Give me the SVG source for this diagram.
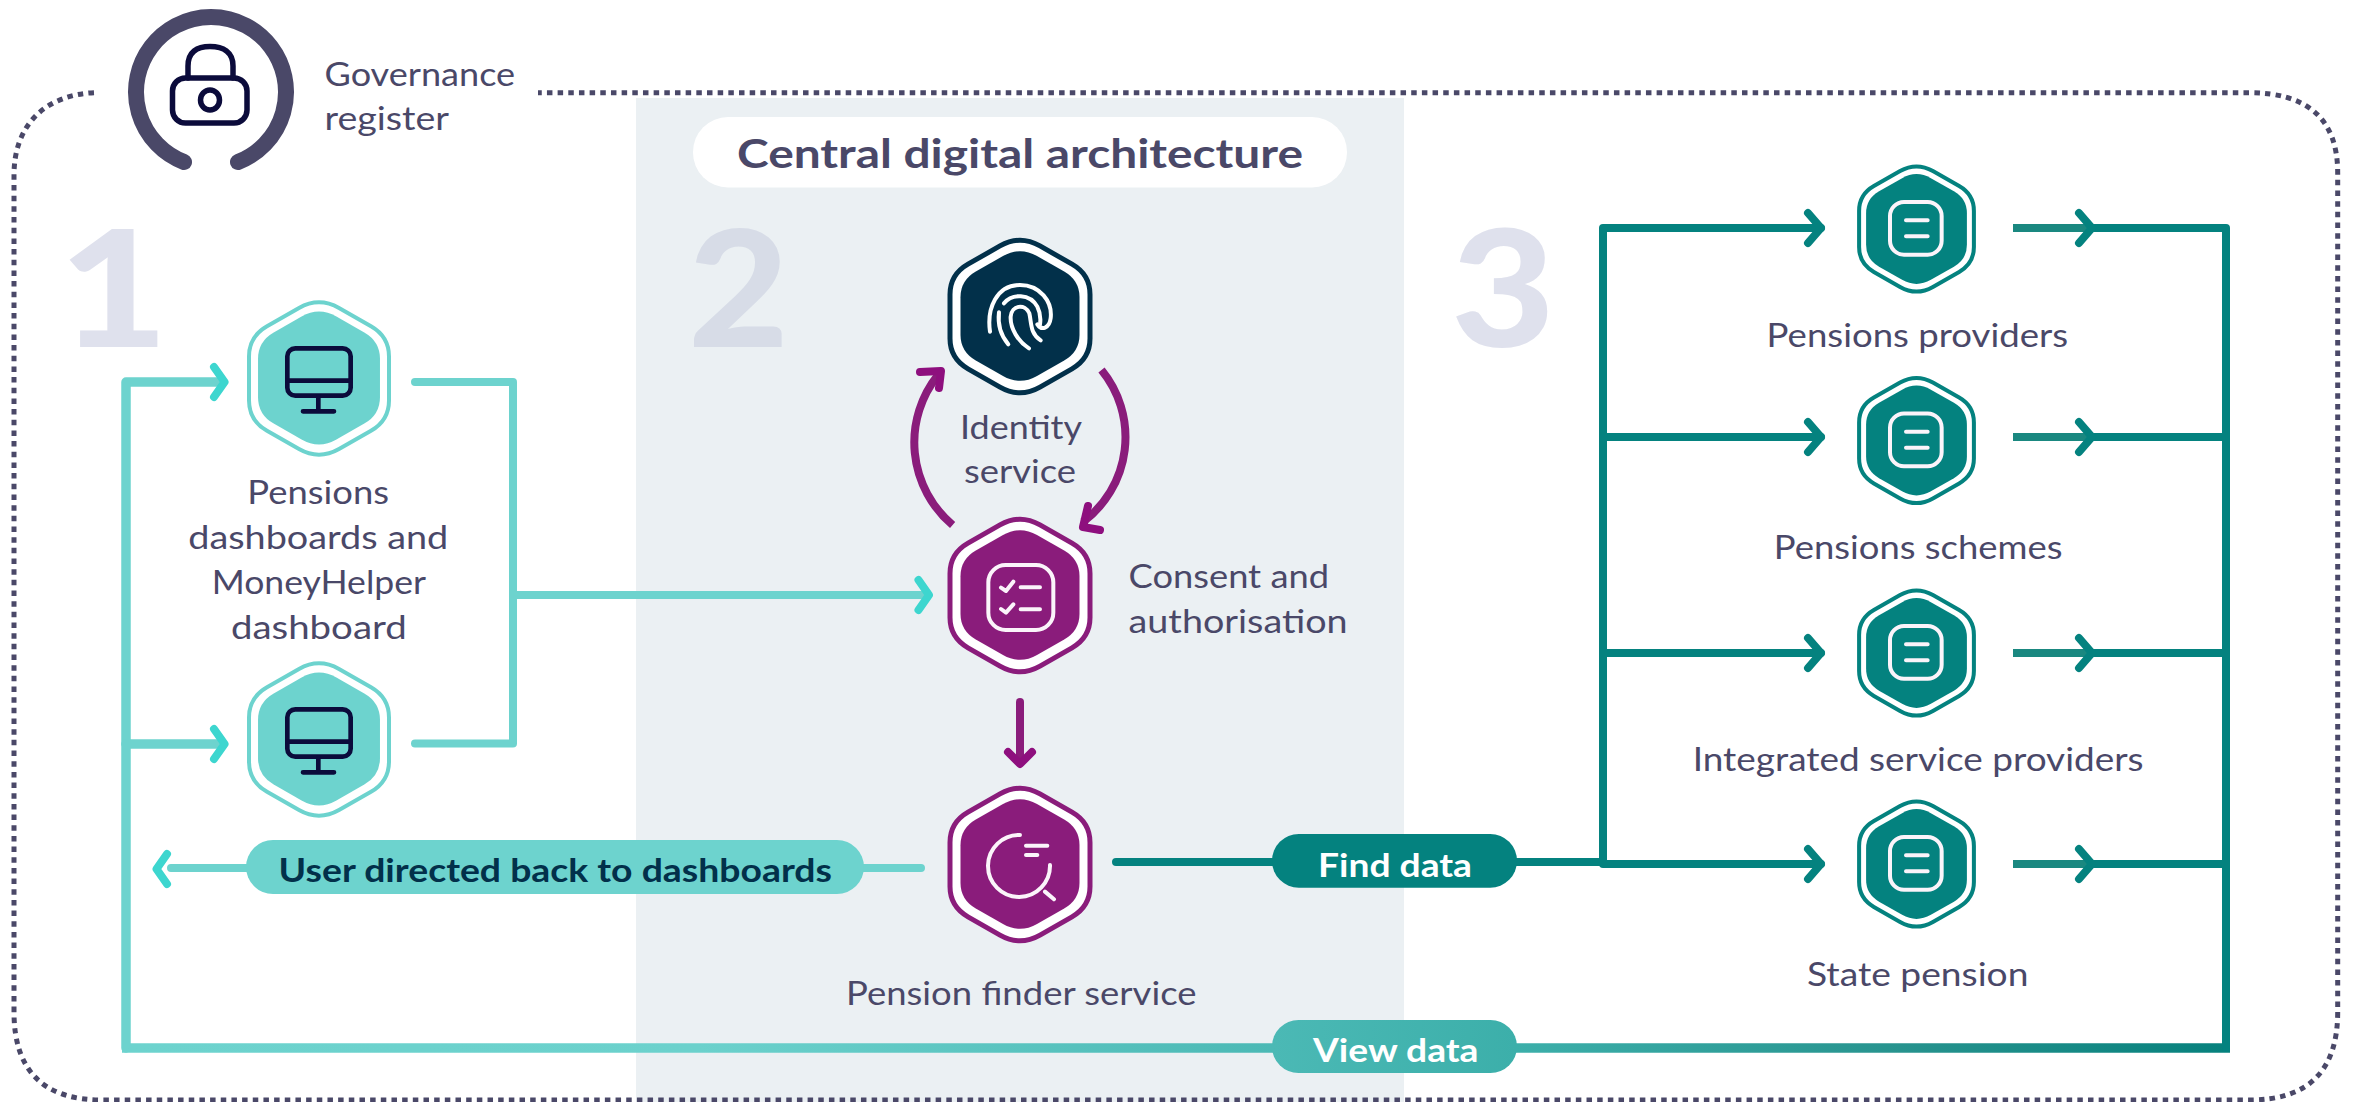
<svg xmlns="http://www.w3.org/2000/svg" width="2354" height="1102" viewBox="0 0 2354 1102">
<style>
text{font-family:"Lato","Noto Sans","Liberation Sans",sans-serif}
.l{font-size:32.5px;fill:#4a4868}
.b{font-size:33px;font-weight:700}
.n{font-size:163px;font-weight:900;fill:#dfe1ed}
.ln{fill:none;stroke-linecap:round;stroke-linejoin:round}
.lt{stroke:#6dd3ce;stroke-width:8}
.te{stroke:#04827f;stroke-width:8}
.pu{stroke:#8a1c7b;stroke-width:8}
.ahl{stroke:#3dd6cf;stroke-width:8}
.ahp{stroke:#8e0f7e;stroke-width:8}
.ic{fill:none;stroke-linecap:round;stroke-linejoin:round;stroke-width:12}
.w{stroke:#fbf4fa}
.k{stroke:#0b0b3b;stroke-width:14}
.o{fill:#fff;stroke-width:5}
.o2{fill:#fff;stroke-width:4.9}
.o3{fill:#fff;stroke-width:4}
</style>
<defs>
<path id="hex" d="M-20,-70.6 Q0,-82 20,-70.6 L52,-52.3 Q70,-42 70,-22 V22 Q70,42 52,52.3 L20,70.6 Q0,82 -20,70.6 L-52,52.3 Q-70,42 -70,22 V-22 Q-70,-42 -52,-52.3 Z"/>
<linearGradient id="vg" gradientUnits="userSpaceOnUse" x1="126" y1="0" x2="2226" y2="0">
<stop offset="0" stop-color="#6dd3ce"/><stop offset=".273" stop-color="#6bd1cc"/><stop offset=".546" stop-color="#4bb9b5"/><stop offset=".662" stop-color="#3cafaa"/><stop offset=".845" stop-color="#27938e"/><stop offset="1" stop-color="#07817d"/>
</linearGradient>
<g id="mon" class="ic k"><rect x="172" y="175" width="190" height="142" rx="24"/><path d="M172,272H362M265,320V364M219,364H312"/></g>
<g id="doc" class="ic w"><rect x="180" y="156" width="155" height="158" rx="42"/><path d="M228,211H293M228,259H293"/></g>
</defs>

<g id="band"><rect x="636" y="98" width="768" height="1004" fill="#ebf0f3"/></g>
<g id="border"><path d="M94,92.7 C45,95 14,125 14,175 V1012 Q14,1100 102,1100 H2250 Q2337.7,1100 2337.7,1012 V173 Q2337.7,92.7 2249,92.7 H538" fill="none" stroke="#4a4868" stroke-width="5" stroke-dasharray="5.5 5.17"/></g>
<g id="numbers">
<text class="n" x="58.500" y="347" textLength="110" lengthAdjust="spacingAndGlyphs">1</text>
<text class="n" x="688" y="347" textLength="101" lengthAdjust="spacingAndGlyphs" style="fill:#d7dce7">2</text>
<text class="n" x="1451" y="347" textLength="104" lengthAdjust="spacingAndGlyphs">3</text>
</g>

<g id="connectors">
<path class="ln lt" style="stroke-width:9.5" d="M126,1048V382H222"/>
<path class="ln lt" style="stroke-width:9.5" d="M126,744H222" />
<path class="ln lt" d="M415,382H513V743.500H415M513,595H925M921,868H171"/>
<path class="ln ahl" d="M214,367L224.600,382L214,397M214,729L224.600,744L214,759M918.500,580L929,595L918.500,610M167,854L156.500,869L167,884"/>
<path d="M122,1048H2230" fill="none" stroke="url(#vg)" stroke-width="9.500"/>
<path class="ln pu" style="stroke-linecap:butt" d="M952.600,525A108,108 0 0 1 938,375"/>
<path class="ln pu" style="stroke-linecap:butt" d="M1101.500,370A106,106 0 0 1 1083,522"/>
<path class="ln ahp" d="M920,372L941,371L939,388M1088,506L1083,527L1100,530"/>
<path class="ln pu" d="M1020,702V760"/>
<path class="ln ahp" d="M1008,752L1020,764L1032,752"/>
<path class="ln te" d="M1116,862H1602M1603,864V228H1821M1603,437H1821M1603,653H1821M1603,864H1821"/>
<path class="ln te" d="M1808,213L1821,228L1808,243M1808,422L1821,437L1808,452M1808,638L1821,653L1808,668M1808,849L1821,864L1808,879"/>
<path class="ln te" style="stroke:#1a8880;stroke-linecap:butt" d="M2013,228H2092M2013,437H2092M2013,653H2092M2013,864H2092"/>
<path class="ln te" d="M2092,228H2226V1048M2092,437H2226M2092,653H2226M2092,864H2226"/>
<path class="ln te" d="M2079,213L2092,228L2079,243M2079,422L2092,437L2079,452M2079,638L2092,653L2079,668M2079,849L2092,864L2079,879"/>
</g>

<g id="governance">
<path d="M184,162A75,75 0 1 1 238,162" fill="none" stroke="#4a4868" stroke-width="16" stroke-linecap="round"/>
<g fill="none" stroke="#0b0b3b" stroke-width="5.500" stroke-linecap="round">
<rect x="172.500" y="78" width="74.500" height="45" rx="13"/>
<path d="M188,78V66C188,52 197,46.500 210,46.500S233,52 233,66V78"/>
<ellipse cx="210" cy="100" rx="9.500" ry="10"/>
</g>
<text class="l" x="324.500" y="86" textLength="190.600" lengthAdjust="spacingAndGlyphs">Governance</text>
<text class="l" x="324.500" y="130" textLength="124.500" lengthAdjust="spacingAndGlyphs">register</text>
</g>

<g id="title">
<rect x="693" y="117" width="654" height="70.500" rx="35" fill="#fff"/>
<text class="b" x="737" y="168" textLength="566" lengthAdjust="spacingAndGlyphs" style="font-size:41px;fill:#4a4868">Central digital architecture</text>
</g>

<g id="dash1">
<use href="#hex" x="319" y="378.500" class="o3" stroke="#6dd3ce"/>
<use href="#hex" transform="translate(319 378) scale(.871)" fill="#6dd3ce"/>
<use href="#mon" transform="translate(230 290) scale(.3333)"/>
<text class="l" x="247.300" y="504" textLength="141.700" lengthAdjust="spacingAndGlyphs">Pensions</text>
<text class="l" x="188.300" y="549.300" textLength="260" lengthAdjust="spacingAndGlyphs">dashboards and</text>
<text class="l" x="211.700" y="594" textLength="214.300" lengthAdjust="spacingAndGlyphs">MoneyHelper</text>
<text class="l" x="231" y="639.300" textLength="175.700" lengthAdjust="spacingAndGlyphs">dashboard</text>
</g>
<g id="dash2">
<use href="#hex" x="319" y="739.500" class="o3" stroke="#6dd3ce"/>
<use href="#hex" transform="translate(319 739) scale(.871)" fill="#6dd3ce"/>
<use href="#mon" transform="translate(230 651) scale(.3333)"/>
</g>

<g id="identity">
<use href="#hex" x="1020" y="316.500" class="o" stroke="#02304a"/>
<use href="#hex" transform="translate(1020 316) scale(.85)" fill="#02304a"/>
<g transform="translate(930 225) scale(.3333)" class="ic" stroke="#fff">
<path d="M180,320C170,250 200,180 270,180C330,180 368,230 362,280C358,310 335,318 322,298"/>
<path d="M207,262C202,305 215,335 235,358"/>
<path d="M222,235C245,205 300,205 322,245C332,265 332,285 330,298"/>
<path d="M297,370C265,350 240,310 242,275C245,240 285,235 298,265C305,295 300,325 332,346"/>
</g>
<text class="l" x="960" y="438.600" textLength="122" lengthAdjust="spacingAndGlyphs">Identity</text>
<text class="l" x="964" y="483" textLength="112" lengthAdjust="spacingAndGlyphs">service</text>
</g>

<g id="consent">
<use href="#hex" x="1020" y="595.500" class="o" stroke="#8a1c7b"/>
<use href="#hex" transform="translate(1020 595) scale(.85)" fill="#8a1c7b"/>
<g transform="translate(930 510) scale(.3333)" class="ic w">
<rect x="175" y="165" width="195" height="195" rx="52"/>
<path d="M213,233L228,243L250,215M272,232H330M213,297L228,308L250,283M272,298H330"/>
</g>
<text class="l" x="1128.600" y="588" textLength="200.400" lengthAdjust="spacingAndGlyphs">Consent and</text>
<text class="l" x="1128.600" y="633" textLength="219" lengthAdjust="spacingAndGlyphs">authorisation</text>
</g>

<g id="finder">
<use href="#hex" x="1020" y="864.500" class="o" stroke="#8a1c7b"/>
<use href="#hex" transform="translate(1020 864) scale(.85)" fill="#8a1c7b"/>
<g transform="translate(930 510) scale(.3333)" class="ic w">
<path d="M270,975A93,93 0 1 0 360,1065M288,1007H352M288,1035H322M345,1145L372,1168"/>
</g>
<text class="l" x="846" y="1005" textLength="350.500" lengthAdjust="spacingAndGlyphs">Pension finder service</text>
</g>

<g id="providers">
<use href="#hex" transform="translate(1916.500 229) scale(.82)" class="o2" stroke="#04827f"/>
<use href="#hex" transform="translate(1916.500 229) scale(.72)" fill="#04827f"/>
<use href="#doc" transform="translate(1830 150) scale(.3333)"/>
<text class="l" x="1766.600" y="347.300" textLength="301.400" lengthAdjust="spacingAndGlyphs">Pensions providers</text>
</g>
<g id="schemes">
<use href="#hex" transform="translate(1916.500 440.500) scale(.82)" class="o2" stroke="#04827f"/>
<use href="#hex" transform="translate(1916.500 440.500) scale(.72)" fill="#04827f"/>
<use href="#doc" transform="translate(1830 361.500) scale(.3333)"/>
<text class="l" x="1773.800" y="558.600" textLength="288.700" lengthAdjust="spacingAndGlyphs">Pensions schemes</text>
</g>
<g id="integrated">
<use href="#hex" transform="translate(1916.500 653) scale(.82)" class="o2" stroke="#04827f"/>
<use href="#hex" transform="translate(1916.500 653) scale(.72)" fill="#04827f"/>
<use href="#doc" transform="translate(1830 574) scale(.3333)"/>
<text class="l" x="1692.700" y="771" textLength="450.900" lengthAdjust="spacingAndGlyphs">Integrated service providers</text>
</g>
<g id="state">
<use href="#hex" transform="translate(1916.500 864) scale(.82)" class="o2" stroke="#04827f"/>
<use href="#hex" transform="translate(1916.500 864) scale(.72)" fill="#04827f"/>
<use href="#doc" transform="translate(1830 785) scale(.3333)"/>
<text class="l" x="1807" y="985.600" textLength="221.400" lengthAdjust="spacingAndGlyphs">State pension</text>
</g>

<g id="pills">
<rect x="246" y="840" width="618" height="54" rx="27" fill="#6dd3ce"/>
<text class="b" x="278.600" y="882" textLength="553.400" lengthAdjust="spacingAndGlyphs" style="fill:#02304a">User directed back to dashboards</text>
<rect x="1272" y="834" width="245" height="53.700" rx="26.800" fill="#04827f"/>
<text class="b" x="1318" y="877" textLength="154" lengthAdjust="spacingAndGlyphs" style="fill:#fff">Find data</text>
<rect x="1272" y="1020" width="245" height="53" rx="26.500" fill="url(#vg)"/>
<text class="b" x="1313" y="1062" textLength="165.500" lengthAdjust="spacingAndGlyphs" style="fill:#fff">View data</text>
</g>
</svg>
